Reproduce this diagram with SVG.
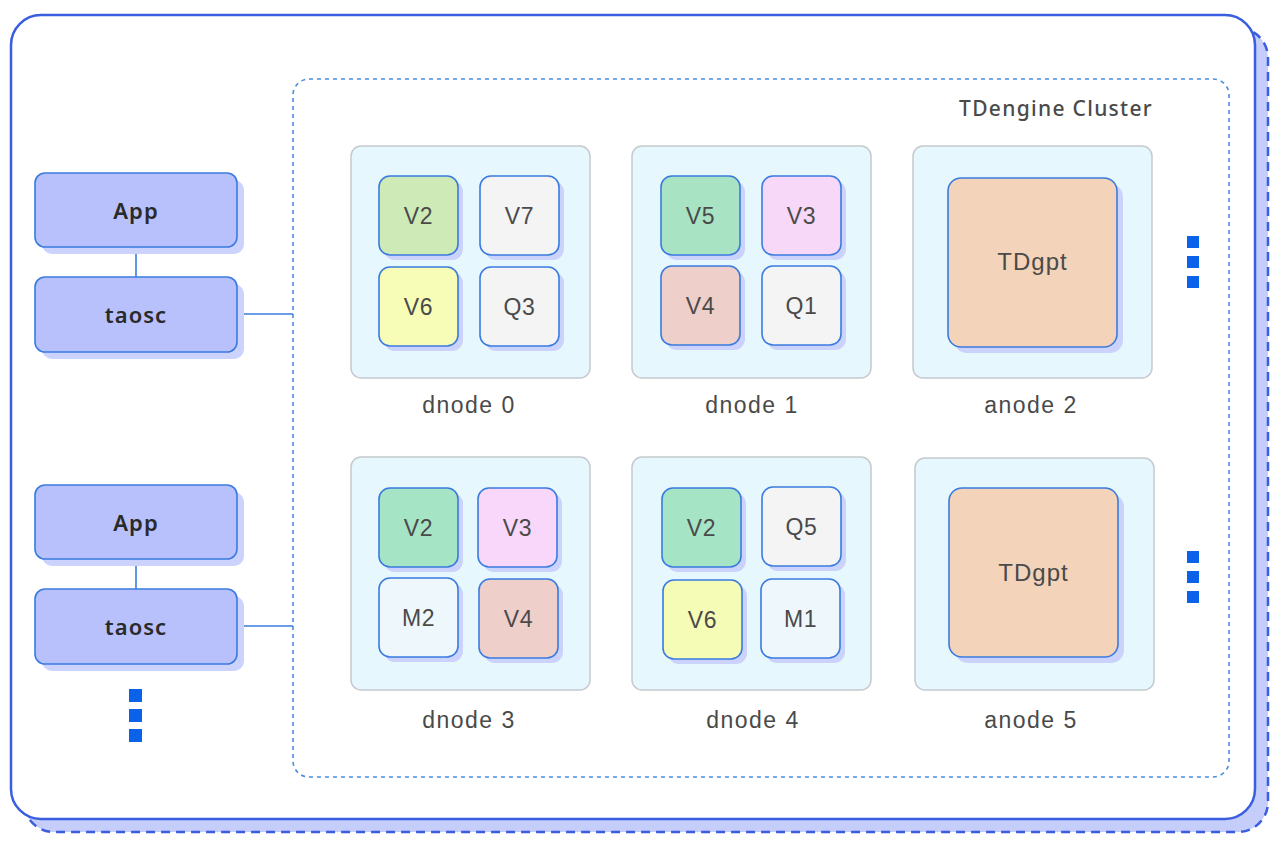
<svg xmlns="http://www.w3.org/2000/svg" width="1280" height="849" viewBox="0 0 1280 849">
<defs>
<style>
.sq{stroke:#3a7be0;stroke-width:1.6}
.sh{fill:#cbd2fb}
.cont{fill:#e6f7fe;stroke:#c4cacd;stroke-width:1.5}
.t{font-family:"Liberation Sans",Arial,sans-serif;font-size:23px;fill:#4a4a4a;text-anchor:middle;dominant-baseline:central;letter-spacing:0.6px}
.tg{font-family:"Liberation Sans",Arial,sans-serif;font-size:24px;fill:#4a4a4a;text-anchor:middle;dominant-baseline:central;letter-spacing:1px}
.lbl{font-family:"Liberation Sans",Arial,sans-serif;font-size:23px;fill:#4a4a4a;text-anchor:middle;letter-spacing:1.5px}
.cl{stroke:#3a7be0;stroke-width:1.6;fill:none}
.dot{fill:#0a62e8}
.app{fill:#b8c1fc;stroke:#3a7be0;stroke-width:1.6}
.at{font-family:"Noto Sans",sans-serif;font-size:22px;font-weight:600;fill:#2a2a2a;text-anchor:middle;dominant-baseline:central;letter-spacing:1px}
</style>
</defs>
<rect width="1280" height="849" fill="#ffffff"/>
<g id="frame">
<rect x="24" y="28" width="1244" height="804" rx="30" fill="#c5cdfb" stroke="#3a5ee0" stroke-width="2.5" stroke-dasharray="9 6"/>
<rect x="11" y="15" width="1244" height="804" rx="30" fill="#ffffff" stroke="#3a5ee0" stroke-width="2.5"/>
</g>
<g id="cluster">
<rect x="293" y="79" width="936" height="698" rx="16" fill="none" stroke="#4a8ee0" stroke-width="1.6" stroke-dasharray="4 4"/>
<text x="1153" y="116" font-family="Noto Sans,sans-serif" font-size="21" font-weight="500" fill="#4a4a4a" text-anchor="end" letter-spacing="1.3">TDengine Cluster</text>
</g>
<g id="connectors">
<line class="cl" x1="136" y1="247" x2="136" y2="277"/>
<line class="cl" x1="237" y1="314" x2="293" y2="314"/>
<line class="cl" x1="136" y1="559" x2="136" y2="589"/>
<line class="cl" x1="237" y1="626" x2="293" y2="626"/>
</g>
<g id="app1">
<rect class="sh" x="42" y="180" width="202" height="74" rx="10"/>
<rect class="app" x="35" y="173" width="202" height="74" rx="10"/>
<text class="at" x="136" y="210">App</text>
</g>
<g id="taosc1">
<rect class="sh" x="42" y="284" width="202" height="75" rx="10"/>
<rect class="app" x="35" y="277" width="202" height="75" rx="10"/>
<text class="at" x="136" y="314">taosc</text>
</g>
<g id="app2">
<rect class="sh" x="42" y="492" width="202" height="74" rx="10"/>
<rect class="app" x="35" y="485" width="202" height="74" rx="10"/>
<text class="at" x="136" y="522">App</text>
</g>
<g id="taosc2">
<rect class="sh" x="42" y="596" width="202" height="75" rx="10"/>
<rect class="app" x="35" y="589" width="202" height="75" rx="10"/>
<text class="at" x="136" y="626">taosc</text>
</g>
<g id="dots">
<rect class="dot" x="129" y="689" width="13" height="13"/>
<rect class="dot" x="129" y="709" width="13" height="13"/>
<rect class="dot" x="129" y="729" width="13" height="13"/>
<rect class="dot" x="1187" y="236" width="12" height="12"/>
<rect class="dot" x="1187" y="256" width="12" height="12"/>
<rect class="dot" x="1187" y="276" width="12" height="12"/>
<rect class="dot" x="1187" y="551" width="12" height="12"/>
<rect class="dot" x="1187" y="571" width="12" height="12"/>
<rect class="dot" x="1187" y="591" width="12" height="12"/>
</g>
<g id="dnode0">
<rect class="cont" x="351" y="146" width="239" height="232" rx="10"/>
<rect class="sh" x="384" y="181" width="79" height="79" rx="11"/>
<rect class="sq" x="379" y="176" width="79" height="79" rx="11" fill="#cdeab7"/>
<text class="t" x="418.5" y="215.5">V2</text>
<rect class="sh" x="485" y="181" width="79" height="79" rx="11"/>
<rect class="sq" x="480" y="176" width="79" height="79" rx="11" fill="#f4f4f4"/>
<text class="t" x="519.5" y="215.5">V7</text>
<rect class="sh" x="384" y="272" width="79" height="79" rx="11"/>
<rect class="sq" x="379" y="267" width="79" height="79" rx="11" fill="#f7fdb7"/>
<text class="t" x="418.5" y="306.5">V6</text>
<rect class="sh" x="485" y="272" width="79" height="79" rx="11"/>
<rect class="sq" x="480" y="267" width="79" height="79" rx="11" fill="#f4f4f4"/>
<text class="t" x="519.5" y="306.5">Q3</text>
<text class="lbl" x="469" y="413">dnode 0</text>
</g>
<g id="dnode1">
<rect class="cont" x="632" y="146" width="239" height="232" rx="10"/>
<rect class="sh" x="666" y="181" width="79" height="79" rx="11"/>
<rect class="sq" x="661" y="176" width="79" height="79" rx="11" fill="#a8e4c4"/>
<text class="t" x="700.5" y="215.5">V5</text>
<rect class="sh" x="767" y="181" width="79" height="79" rx="11"/>
<rect class="sq" x="762" y="176" width="79" height="79" rx="11" fill="#f8d8f8"/>
<text class="t" x="801.5" y="215.5">V3</text>
<rect class="sh" x="666" y="271" width="79" height="79" rx="11"/>
<rect class="sq" x="661" y="266" width="79" height="79" rx="11" fill="#efcfc9"/>
<text class="t" x="700.5" y="305.5">V4</text>
<rect class="sh" x="767" y="271" width="79" height="79" rx="11"/>
<rect class="sq" x="762" y="266" width="79" height="79" rx="11" fill="#f4f4f4"/>
<text class="t" x="801.5" y="305.5">Q1</text>
<text class="lbl" x="752" y="413">dnode 1</text>
</g>
<g id="anode2">
<rect class="cont" x="913" y="146" width="239" height="232" rx="10"/>
<rect class="sh" x="954" y="184" width="169" height="169" rx="13"/>
<rect class="sq" x="948" y="178" width="169" height="169" rx="13" fill="#f3d3b9"/>
<text class="tg" x="1032.5" y="261">TDgpt</text>
<text class="lbl" x="1031" y="413">anode 2</text>
</g>
<g id="dnode3">
<rect class="cont" x="351" y="457" width="239" height="233" rx="10"/>
<rect class="sh" x="384" y="493" width="79" height="79" rx="11"/>
<rect class="sq" x="379" y="488" width="79" height="79" rx="11" fill="#a6e4c6"/>
<text class="t" x="418.5" y="527.5">V2</text>
<rect class="sh" x="483" y="493" width="79" height="79" rx="11"/>
<rect class="sq" x="478" y="488" width="79" height="79" rx="11" fill="#f9d7fa"/>
<text class="t" x="517.5" y="527.5">V3</text>
<rect class="sh" x="384" y="583" width="79" height="79" rx="11"/>
<rect class="sq" x="379" y="578" width="79" height="79" rx="11" fill="#eef8fc"/>
<text class="t" x="418.5" y="617.5">M2</text>
<rect class="sh" x="484" y="584" width="79" height="79" rx="11"/>
<rect class="sq" x="479" y="579" width="79" height="79" rx="11" fill="#eecfca"/>
<text class="t" x="518.5" y="618.5">V4</text>
<text class="lbl" x="469" y="728">dnode 3</text>
</g>
<g id="dnode4">
<rect class="cont" x="632" y="457" width="239" height="233" rx="10"/>
<rect class="sh" x="667" y="493" width="79" height="79" rx="11"/>
<rect class="sq" x="662" y="488" width="79" height="79" rx="11" fill="#a6e4c6"/>
<text class="t" x="701.5" y="527.5">V2</text>
<rect class="sh" x="767" y="492" width="79" height="79" rx="11"/>
<rect class="sq" x="762" y="487" width="79" height="79" rx="11" fill="#f4f4f4"/>
<text class="t" x="801.5" y="526.5">Q5</text>
<rect class="sh" x="668" y="585" width="79" height="79" rx="11"/>
<rect class="sq" x="663" y="580" width="79" height="79" rx="11" fill="#f5fcb5"/>
<text class="t" x="702.5" y="619.5">V6</text>
<rect class="sh" x="766" y="584" width="79" height="79" rx="11"/>
<rect class="sq" x="761" y="579" width="79" height="79" rx="11" fill="#eef8fc"/>
<text class="t" x="800.5" y="618.5">M1</text>
<text class="lbl" x="753" y="728">dnode 4</text>
</g>
<g id="anode5">
<rect class="cont" x="915" y="458" width="239" height="232" rx="10"/>
<rect class="sh" x="955" y="494" width="169" height="169" rx="13"/>
<rect class="sq" x="949" y="488" width="169" height="169" rx="13" fill="#f3d3b9"/>
<text class="tg" x="1033.5" y="572">TDgpt</text>
<text class="lbl" x="1031" y="728">anode 5</text>
</g>
</svg>
